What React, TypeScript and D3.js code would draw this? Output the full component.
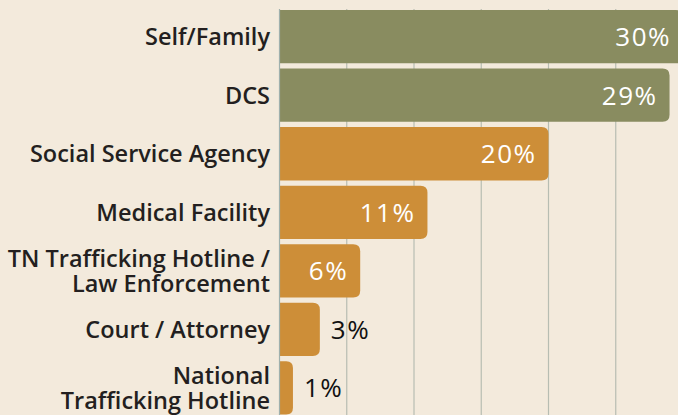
import React from "react";
import * as d3 from "d3";

const categories = [
  ["Self/Family"],
  ["DCS"],
  ["Social Service Agency"],
  ["Medical Facility"],
  ["TN Trafficking Hotline /", "Law Enforcement"],
  ["Court / Attorney"],
  ["National", "Trafficking Hotline"],
];
const values = [30, 29, 20, 11, 6, 3, 1];
const groups = ["green", "green", "orange", "orange", "orange", "orange", "orange"];
const gridTicks = [5, 10, 15, 20, 25];

const W = 678;
const H = 415;
const BG = "#f3eadc";
const COLORS: Record<string, string> = { green: "#898c60", orange: "#cd8e38" };
const FONT = "'Open Sans', 'Noto Sans', sans-serif";

function barPath(x0: number, x1: number, y0: number, h: number, r: number) {
  const rr = Math.min(r, (x1 - x0) / 2, h / 2);
  return `M${x0},${y0}H${x1 - rr}Q${x1},${y0} ${x1},${y0 + rr}V${y0 + h - rr}Q${x1},${y0 + h} ${x1 - rr},${y0 + h}H${x0}Z`;
}

export default function App() {
  const x = d3.scaleLinear().domain([0, 30]).range([279.5, 683]);
  const keys = categories.map((c) => c.join(" "));
  const y = d3.scaleBand<string>().domain(keys).range([7.4, 417.2]).paddingInner(0.09).paddingOuter(0.045);

  return (
    <svg width={W} height={H} style={{ position: "absolute", left: 0, top: 0, display: "block" }}>
      <rect x={0} y={0} width={W} height={H} fill={BG} />
      {gridTicks.map((t) => (
        <line key={t} x1={x(t)} x2={x(t)} y1={9} y2={H} stroke="#b7bdb2" strokeWidth={1.2} />
      ))}
      {values.map((v, i) => {
        const yy = y(keys[i])!;
        const h = y.bandwidth();
        return <path key={i} d={barPath(x(0), x(v), yy, h, 7)} fill={COLORS[groups[i]]} />;
      })}
      <line x1={x(0)} x2={x(0)} y1={9} y2={H} stroke="#9fb0ad" strokeWidth={1.2} />
      {values.map((v, i) => {
        const cy = y(keys[i])! + y.bandwidth() / 2;
        const inside = v >= 5;
        return (
          <text
            key={"v" + i}
            x={inside ? x(v) - 12 : x(v) + 11}
            y={cy + 9.5}
            textAnchor={inside ? "end" : "start"}
            fill={inside ? "#ffffff" : "#111111"}
            fontFamily={FONT}
            fontWeight={500}
            fontSize={26}
            letterSpacing={1.5}
          >
            {v}%
          </text>
        );
      })}
      {categories.map((lines, i) => {
        const cy = y(keys[i])! + y.bandwidth() / 2;
        const lh = 24.5;
        const first = cy + 8.5 - ((lines.length - 1) * lh) / 2;
        return (
          <text
            key={"c" + i}
            x={270}
            textAnchor="end"
            fill="#231f20"
            fontFamily={FONT}
            fontWeight={600}
            fontSize={23.5}
          >
            {lines.map((l, j) => (
              <tspan key={j} x={270} y={first + j * lh}>
                {l}
              </tspan>
            ))}
          </text>
        );
      })}
    </svg>
  );
}
